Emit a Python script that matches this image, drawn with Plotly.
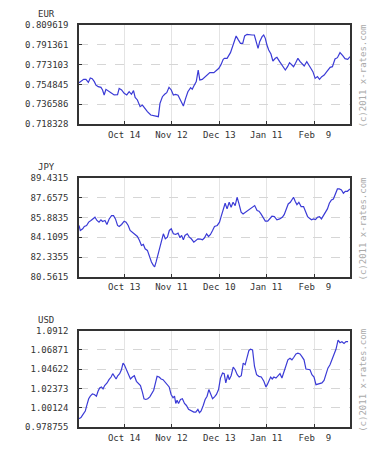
import plotly.graph_objects as go

# ---------------- data ----------------
eur_day = [0, 1.2, 2.9, 4.3, 5.8, 7.0, 8.2, 9.5, 10.5, 11.9,
           13.6, 14.6, 15.6, 16.7, 18.1, 19.8, 21.8, 23.9, 24.9, 26.4,
           28.0, 29.6, 31.1, 32.5, 33.8, 34.8, 36.2, 37.9, 39.3, 40.8,
           42.4, 44.5, 46.5, 48.2, 49.2, 50.2, 51.7, 53.1, 54.4, 55.8,
           57.2, 58.5, 59.9, 61.4, 63.0, 64.7, 66.1, 67.5, 69.2, 70.2,
           71.2, 72.7, 73.9, 74.9, 76.4, 77.8, 79.5, 81.1, 83.6, 85.2,
           86.7, 88.1, 89.4, 90.2, 91.8, 93.9, 95.9, 97.4, 98.6, 100.1,
           101.5, 102.7, 104.2, 105.8, 107.3, 108.7, 109.7, 111.0, 112.0, 113.5,
           114.5, 115.5, 116.5, 117.6, 119.0, 120.2, 121.7, 122.7, 124.4, 125.8,
           127.9, 129.3, 130.5, 132.0, 133.0, 134.2, 135.7, 137.1, 138.6, 139.6,
           141.2, 142.3, 143.7, 145.0, 146.4, 147.8, 149.1, 150.5, 152.0, 153.6,
           155.7, 157.1, 158.7, 160.2, 161.8, 163.5, 164.9, 166.6, 168.0]
eur_rate = [0.7564, 0.7580, 0.7595, 0.7595, 0.7567, 0.7607, 0.7601, 0.7574, 0.7543, 0.7528,
            0.7521, 0.7497, 0.7451, 0.7503, 0.7491, 0.7472, 0.7451, 0.7454, 0.7512, 0.7497,
            0.7466, 0.7451, 0.7481, 0.7457, 0.7491, 0.7429, 0.7405, 0.7343, 0.7358, 0.7328,
            0.7297, 0.7266, 0.7260, 0.7260, 0.7251, 0.7374, 0.7435, 0.7457, 0.7472, 0.7521,
            0.7497, 0.7451, 0.7457, 0.7448, 0.7405, 0.7349, 0.7420, 0.7481, 0.7518, 0.7503,
            0.7534, 0.7574, 0.7681, 0.7589, 0.7595, 0.7614, 0.7635, 0.7657, 0.7657, 0.7675,
            0.7697, 0.7733, 0.7780, 0.7789, 0.7789, 0.7841, 0.7927, 0.7995, 0.7964, 0.7927,
            0.7927, 0.7995, 0.8010, 0.8004, 0.8004, 0.8004, 0.7958, 0.7881, 0.7942, 0.7989,
            0.8004, 0.7973, 0.7912, 0.7866, 0.7829, 0.7764, 0.7789, 0.7798, 0.7758, 0.7727,
            0.7681, 0.7712, 0.7749, 0.7727, 0.7712, 0.7743, 0.7789, 0.7758, 0.7727, 0.7718,
            0.7758, 0.7727, 0.7697, 0.7666, 0.7604, 0.7620, 0.7595, 0.7620, 0.7635, 0.7666,
            0.7706, 0.7712, 0.7783, 0.7795, 0.7841, 0.7813, 0.7786, 0.7780, 0.7804]

jpy_day = [0, 0.8, 2.3, 3.3, 4.7, 6.0, 7.4, 8.9, 9.9, 11.1,
           12.4, 13.6, 14.6, 16.1, 17.3, 18.7, 20.2, 21.4, 22.6, 23.9,
           24.9, 26.4, 28.0, 29.2, 30.5, 31.7, 33.1, 34.6, 36.2, 37.5,
           38.7, 39.9, 41.0, 42.4, 43.7, 44.9, 46.1, 46.9, 47.8, 48.6,
           49.8, 51.1, 52.3, 53.5, 54.8, 56.0, 57.2, 58.5, 59.9, 61.4,
           62.6, 63.6, 64.7, 65.7, 67.1, 68.4, 69.6, 71.2, 72.5, 73.7,
           75.4, 76.6, 77.8, 79.1, 80.3, 81.5, 82.8, 84.0, 85.7, 87.1,
           88.1, 89.4, 90.6, 91.8, 93.1, 94.3, 95.5, 96.8, 98.0, 99.2,
           100.5, 101.7, 103.2, 105.2, 107.3, 108.9, 110.4, 111.6, 112.8, 114.1,
           115.5, 117.0, 118.2, 119.6, 121.1, 122.7, 124.4, 126.0, 127.2, 128.5,
           129.7, 131.0, 132.2, 133.0, 134.0, 135.1, 136.3, 137.7, 139.2, 140.4,
           141.7, 142.9, 144.1, 145.4, 146.6, 147.8, 149.1, 150.3, 151.5, 152.8,
           154.0, 155.2, 156.5, 157.7, 159.0, 160.2, 161.4, 162.7, 163.9, 165.1,
           166.4, 168.0]
jpy_rate = [85.18, 84.73, 84.88, 85.09, 85.18, 85.48, 85.63, 85.77, 85.92, 85.63,
            85.48, 85.69, 85.54, 85.63, 85.27, 85.77, 86.07, 86.07, 85.77, 85.18,
            85.09, 85.27, 85.57, 85.48, 85.18, 84.73, 84.58, 84.43, 84.19, 83.83,
            83.38, 83.47, 83.08, 82.93, 82.34, 81.89, 81.59, 81.44, 81.89, 82.34,
            82.78, 83.53, 84.43, 83.98, 84.13, 84.73, 84.88, 84.43, 84.37, 84.49,
            84.07, 84.28, 83.89, 84.28, 84.43, 84.13, 83.98, 83.68, 83.83, 83.98,
            83.95, 83.89, 84.07, 84.43, 84.19, 84.37, 84.73, 85.09, 85.18, 85.48,
            85.98, 86.52, 87.18, 86.67, 87.27, 86.82, 87.27, 86.97, 87.72, 87.12,
            86.37, 86.22, 86.37, 86.58, 86.82, 86.97, 86.52, 86.46, 86.22, 85.92,
            85.57, 85.57, 85.77, 86.01, 85.98, 85.69, 85.77, 85.92, 86.16, 86.58,
            87.12, 87.27, 87.48, 87.72, 87.36, 87.06, 87.27, 86.88, 86.88, 86.52,
            85.98, 85.83, 85.69, 85.77, 85.71, 85.92, 85.98, 85.77, 86.07, 86.37,
            86.67, 87.18, 87.48, 87.57, 88.08, 88.47, 88.47, 88.38, 88.08, 88.26,
            88.26, 88.47]

usd_day = [0, 1.2, 2.5, 3.9, 5.0, 6.0, 7.0, 8.3, 9.5, 10.8,
           11.8, 12.8, 13.9, 14.9, 15.9, 17.4, 18.6, 19.9, 20.9, 21.9,
           23.0, 24.0, 25.2, 26.3, 27.3, 28.1, 29.4, 30.6, 31.9, 33.1,
           34.3, 35.6, 36.8, 38.1, 39.3, 40.3, 41.4, 42.6, 43.9, 45.3,
           46.3, 47.4, 48.4, 49.7, 50.9, 52.1, 53.4, 54.6, 55.9, 57.1,
           58.3, 59.2, 60.0, 60.8, 61.7, 62.9, 64.1, 65.4, 66.6, 67.9,
           69.5, 71.2, 72.4, 73.7, 74.7, 75.7, 77.0, 78.2, 79.4, 80.5,
           81.5, 82.8, 84.0, 85.2, 86.5, 87.7, 89.0, 90.0, 91.0, 92.3,
           93.1, 94.3, 95.6, 96.8, 98.1, 99.3, 100.6, 101.8, 103.0, 104.3,
           105.3, 106.3, 107.6, 108.8, 110.1, 111.5, 113.0, 114.6, 115.9, 116.7,
           117.7, 118.8, 119.8, 120.8, 122.1, 123.3, 124.6, 125.8, 127.0, 128.3,
           129.5, 130.8, 132.0, 133.2, 134.5, 135.7, 137.0, 138.2, 139.5, 140.7,
           141.9, 143.2, 144.4, 145.7, 146.9, 148.1, 149.4, 150.6, 151.9, 153.1,
           154.3, 155.6, 156.8, 158.1, 159.3, 160.6, 161.8, 163.0, 164.3, 165.5,
           166.8]
usd_rate = [0.9885, 0.9897, 0.9935, 0.9974, 1.0051, 1.0117, 1.0147, 1.0174, 1.0167, 1.0147,
            1.0205, 1.0244, 1.0255, 1.0232, 1.0271, 1.0302, 1.0340, 1.0371, 1.0410, 1.0379,
            1.0348, 1.0386, 1.0410, 1.0456, 1.0533, 1.0514, 1.0456, 1.0386, 1.0348, 1.0371,
            1.0386, 1.0321, 1.0294, 1.0271, 1.0194, 1.0117, 1.0109, 1.0117, 1.0140, 1.0178,
            1.0217, 1.0302, 1.0379, 1.0371, 1.0348, 1.0340, 1.0309, 1.0282, 1.0255, 1.0167,
            1.0128, 1.0147, 1.0063, 1.0101, 1.0063, 1.0109, 1.0117, 1.0063, 1.0039, 0.9993,
            0.9974, 0.9962, 0.9962, 0.9993, 0.9955, 0.9974, 1.0039, 1.0109, 1.0147, 1.0225,
            1.0178, 1.0117, 1.0140, 1.0167, 1.0225, 1.0359, 1.0417, 1.0410, 1.0302, 1.0398,
            1.0340, 1.0386, 1.0487, 1.0456, 1.0398, 1.0371, 1.0386, 1.0533, 1.0514, 1.0629,
            1.0680, 1.0695, 1.0687, 1.0494, 1.0398, 1.0379, 1.0371, 1.0321, 1.0255, 1.0282,
            1.0321, 1.0371, 1.0348, 1.0371, 1.0359, 1.0379, 1.0410, 1.0359, 1.0425, 1.0514,
            1.0572, 1.0591, 1.0572, 1.0602, 1.0641, 1.0649, 1.0641, 1.0610, 1.0572, 1.0464,
            1.0464, 1.0456, 1.0398, 1.0371, 1.0282, 1.0286, 1.0294, 1.0302, 1.0332, 1.0410,
            1.0475, 1.0514, 1.0572, 1.0629, 1.0695, 1.0803, 1.0772, 1.0784, 1.0764, 1.0784,
            1.0784]

panel_names = ["EUR", "JPY", "USD"]
tick_days = [28.0, 57.3, 87.0, 116.1, 146.2]
eur_xticks = ["Oct 14", "Nov 12", "Dec 13", "Jan 11", "Feb\u00a0\u00a09"]
jpy_xticks = ["Oct 13", "Nov 11", "Dec 10", "Jan 11", "Feb\u00a0\u00a09"]
usd_xticks = ["Oct 14", "Nov 12", "Dec 13", "Jan 11", "Feb\u00a0\u00a09"]
eur_yticks = [0.718328, 0.736586, 0.754845, 0.773103, 0.791361, 0.809619]
jpy_yticks = [80.5615, 82.3355, 84.1095, 85.8835, 87.6575, 89.4315]
usd_yticks = [0.978755, 1.00124, 1.02373, 1.04622, 1.06871, 1.0912]
copyright_text = "(c)2011 x-rates.com"

# ---------------- figure ----------------
# The page body adds an 8px offset, so the figure is drawn 8px smaller
OFF = 8
W, H = 378 - OFF, 450 - OFF
ML, MR, MT, MB = 78.5 - OFF, 28, 25 - OFF, 23
FONT = "DejaVu Sans Mono"
LINE = "#3b3bd6"
TXT = "#333333"

# panel top/bottom in page pixels
panels = [
    (eur_day, eur_rate, eur_xticks, eur_yticks, (25, 124)),
    (jpy_day, jpy_rate, jpy_xticks, jpy_yticks, (178.3, 276.7)),
    (usd_day, usd_rate, usd_xticks, usd_yticks, (330.7, 427)),
]

ph = H - MT - MB
pw = W - ML - MR
def py(p):
    return (H - MB - (p - OFF)) / ph
def px(p):
    return ((p - OFF) - ML) / pw

fig = go.Figure()
layout = dict(
    width=W, height=H,
    margin=dict(l=ML, r=MR, t=MT, b=MB, pad=0, autoexpand=False),
    paper_bgcolor="white", plot_bgcolor="white",
    showlegend=False,
    font=dict(family=FONT, size=9, color=TXT),
    annotations=[],
)

for i, (xd, yd, xt, yt, (top, bot)) in enumerate(panels):
    n = "" if i == 0 else str(i + 1)
    fig.add_trace(go.Scatter(
        x=xd, y=yd, mode="lines",
        line=dict(color=LINE, width=1.2),
        xaxis="x" + n, yaxis="y" + n, hoverinfo="skip",
    ))
    layout["xaxis" + n] = dict(
        domain=[0, 1], anchor="y" + n, range=[0, 168],
        tickmode="array", tickvals=tick_days, ticktext=xt,
        ticks="inside", ticklen=3, tickwidth=1, tickcolor="#333",
        showgrid=True, gridcolor="#e4e4e4", gridwidth=1,
        showline=True, linecolor="#333", linewidth=1.5, mirror=True,
        zeroline=False, fixedrange=True, ticklabelstandoff=1,
        tickfont=dict(family=FONT, size=9, color=TXT),
    )
    layout["yaxis" + n] = dict(
        domain=[py(bot), py(top)], anchor="x" + n,
        range=[yt[0], yt[-1]],
        tickmode="array", tickvals=yt, ticktext=[str(v) for v in yt],
        ticks="inside", ticklen=3, tickwidth=1, tickcolor="#333",
        showgrid=True, gridcolor="#d6d6d6", gridwidth=1, griddash="dash",
        showline=True, linecolor="#333", linewidth=1.5, mirror=True,
        zeroline=False, fixedrange=True, ticklabelstandoff=7,
        tickfont=dict(family=FONT, size=9, color=TXT),
    )
    layout["annotations"].append(dict(
        text=panel_names[i], xref="paper", yref="paper",
        x=px(35), y=py(top - 11),
        xanchor="left", yanchor="middle", showarrow=False,
        font=dict(family=FONT, size=9, color=TXT),
    ))
    layout["annotations"].append(dict(
        text=copyright_text, xref="paper", yref="paper",
        x=px(363), y=py((top + bot) / 2 + 1),
        xanchor="center", yanchor="middle", textangle=-90, showarrow=False,
        font=dict(family=FONT, size=9, color="#aaaaaa"),
    ))

fig.update_layout(**layout)
fig.write_html("out.html")
